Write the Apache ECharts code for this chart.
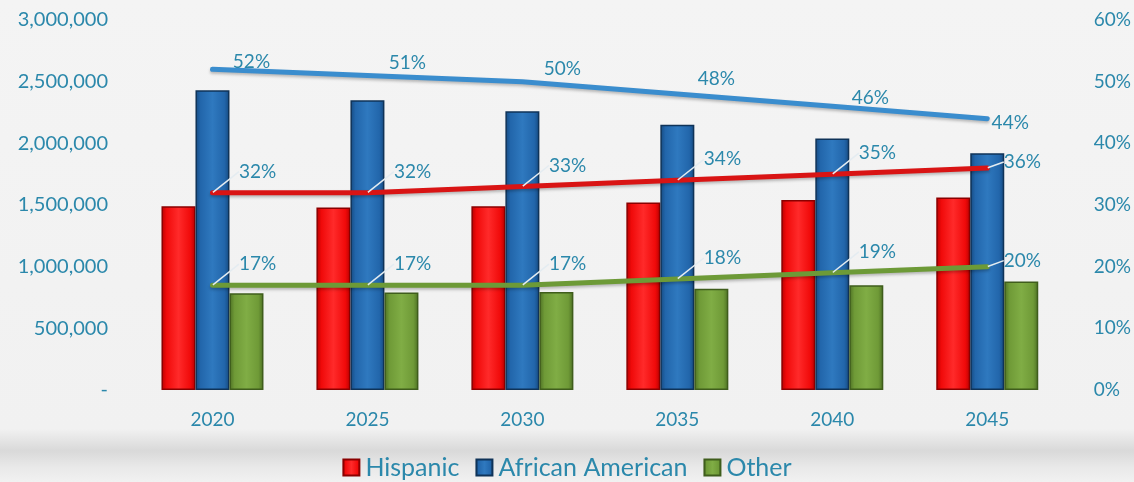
<!DOCTYPE html>
<html>
<head>
<meta charset="utf-8">
<script src="https://cdn.jsdelivr.net/npm/echarts@6/dist/echarts.min.js"></script>
<style>
html,body{margin:0;padding:0;background:#f2f2f2;}
#c{width:1134px;height:482px;}
</style>
</head>
<body>
<div id="c"></div>
<script>
var categories = ['2020','2025','2030','2035','2040','2045'];
var hispanic = [1490000, 1480000, 1490000, 1520000, 1540000, 1560000];
var africanAmerican = [2430000, 2350000, 2260000, 2150000, 2040000, 1920000];
var other = [785000, 790000, 795000, 820000, 850000, 880000];
var pctAfricanAmerican = [52, 51, 50, 48, 46, 44];
var pctHispanic = [32, 32, 33, 34, 35, 36];
var pctOther = [17, 17, 17, 18, 19, 20];
var leftTicks = ['-', '500,000', '1,000,000', '1,500,000', '2,000,000', '2,500,000', '3,000,000'];

// label placement (styling only)
var blueLabelOffsets = [[39, 8], [40, 2], [40, 2], [39, 0], [38, 7], [23, 19]];

var FONT = 'Lato, "Open Sans", sans-serif';
var TXT = '#2b88ab';

function barGrad(light, mid, dark) {
  return new echarts.graphic.LinearGradient(0, 0, 1, 0, [
    {offset: 0, color: dark},
    {offset: 0.15, color: mid},
    {offset: 0.5, color: light},
    {offset: 0.85, color: mid},
    {offset: 1, color: dark}
  ]);
}

function barSeries(name, data, grad, border) {
  return {
    name: name, type: 'bar', data: data, yAxisIndex: 0,
    barWidth: 34, barGap: '0%',
    itemStyle: {color: grad, borderColor: border, borderWidth: 1.5}
  };
}

function lineSeries(name, data, color, callout) {
  var s = {
    name: name, type: 'line', yAxisIndex: 1,
    symbol: 'circle', symbolSize: 1, showSymbol: true, z: 5,
    itemStyle: {color: color},
    lineStyle: {color: color, width: 5, cap: 'round',
      shadowColor: 'rgba(0,0,0,0.25)', shadowBlur: 3, shadowOffsetY: 2},
    label: {
      show: true, position: 'top', distance: 5,
      formatter: '{c}%', color: TXT, fontFamily: FONT, fontSize: 19
    }
  };
  if (callout) {
    s.data = data;
    s.label.position = 'right';
    s.label.distance = 2;
    s.labelLine = {show: true, smooth: false,
      lineStyle: {color: '#e4ecf1', width: 1.5}};
    s.labelLayout = function (p) {
      if (p.dataIndex === data.length - 1) return {dx: 14, dy: -6};
      return {dx: 24, dy: -21};
    };
  } else {
    s.data = data.map(function (v, i) {
      return {value: v, label: {offset: blueLabelOffsets[i]}};
    });
  }
  return s;
}

var chart = echarts.init(document.getElementById('c'));
chart.setOption({
  backgroundColor: new echarts.graphic.LinearGradient(0, 0, 0, 1, [
    {offset: 0, color: '#f4f4f4'},
    {offset: 0.89, color: '#f1f1f1'},
    {offset: 0.935, color: '#d9d9d9'},
    {offset: 0.97, color: '#e9e9e9'},
    {offset: 1, color: '#f1f1f1'}
  ]),
  animation: false,
  textStyle: {fontFamily: FONT},
  grid: {left: 135, right: 61, top: 20, bottom: 92},
  legend: {
    bottom: -3, left: 'center',
    data: ['Hispanic', 'African American', 'Other'],
    icon: 'rect',
    itemWidth: 16, itemHeight: 16, itemGap: 16,
    textStyle: {color: TXT, fontSize: 25, fontFamily: FONT, padding: [0, 0, 0, 1]}
  },
  xAxis: {
    type: 'category', data: categories,
    axisLine: {show: false}, axisTick: {show: false},
    axisLabel: {color: TXT, fontSize: 19, margin: 20, fontFamily: FONT}
  },
  yAxis: [
    {
      type: 'value', min: 0, max: 3000000, interval: 500000,
      splitLine: {show: false}, axisLine: {show: false}, axisTick: {show: false},
      axisLabel: {color: TXT, fontSize: 20, margin: 27, fontFamily: FONT,
        formatter: function (v) { return leftTicks[Math.round(v / 500000)]; }}
    },
    {
      type: 'value', min: 0, max: 60, interval: 10,
      splitLine: {show: false}, axisLine: {show: false}, axisTick: {show: false},
      axisLabel: {color: TXT, fontSize: 19, margin: 29, fontFamily: FONT, formatter: '{value}%'}
    }
  ],
  series: [
    barSeries('Hispanic', hispanic, barGrad('#ff2a2a', '#f00a0a', '#b80000'), '#8a0000'),
    barSeries('African American', africanAmerican, barGrad('#2f79bf', '#2266ab', '#164a80'), '#0f3358'),
    barSeries('Other', other, barGrad('#80ad45', '#6f9a37', '#4d7024'), '#3f5d1c'),
    lineSeries('pctAA', pctAfricanAmerican, '#3a8dce', false),
    lineSeries('pctH', pctHispanic, '#d91414', true),
    lineSeries('pctO', pctOther, '#6d9a37', true)
  ]
});
</script>
</body>
</html>
